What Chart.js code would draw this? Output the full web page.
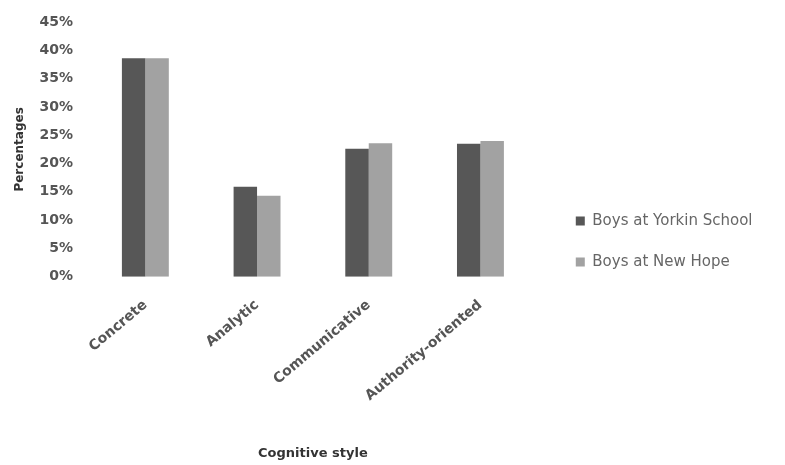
<!DOCTYPE html>
<html lang="en">
<head>
    <meta charset="UTF-8">
    <title>Cognitive style</title>
    <script src="https://cdn.jsdelivr.net/npm/chart.js"></script>
    <style>
        html, body {
            margin: 0;
            padding: 0;
            background: #ffffff;
        }
        .chart-container {
            width: 785px;
            height: 465px;
        }
    </style>
</head>
<body>
    <div class="chart-container">
        <canvas id="styleChart" width="785" height="465"></canvas>
    </div>

    <script>
        // Data (percentages)
        const categories = ['Concrete', 'Analytic', 'Communicative', 'Authority-oriented'];
        const seriesNames = ['Boys at Yorkin School', 'Boys at New Hope'];
        const yorkinValues = [38.6, 15.9, 22.6, 23.5];
        const newHopeValues = [38.6, 14.3, 23.6, 24.0];
        const yTicks = [0, 5, 10, 15, 20, 25, 30, 35, 40, 45];

        const tickColor = '#555555';

        const ctx = document.getElementById('styleChart').getContext('2d');
        new Chart(ctx, {
            type: 'bar',
            data: {
                labels: categories,
                datasets: [
                    {
                        label: seriesNames[0],
                        data: yorkinValues,
                        backgroundColor: '#575757',
                        categoryPercentage: 0.42,
                        barPercentage: 1.0
                    },
                    {
                        label: seriesNames[1],
                        data: newHopeValues,
                        backgroundColor: '#a2a2a2',
                        categoryPercentage: 0.42,
                        barPercentage: 1.0
                    }
                ]
            },
            options: {
                responsive: false,
                animation: false,
                devicePixelRatio: 1,
                layout: {
                    padding: { top: 22, left: 13, right: 22.5, bottom: 4 }
                },
                plugins: {
                    legend: {
                        position: 'right',
                        maxWidth: 260,
                        labels: {
                            boxWidth: 9,
                            boxHeight: 9,
                            padding: 26,
                            color: '#666666',
                            font: { family: 'DejaVu Sans', size: 15 }
                        }
                    },
                    tooltip: { enabled: false }
                },
                scales: {
                    x: {
                        grid: { display: false },
                        border: { display: false },
                        ticks: {
                            color: tickColor,
                            minRotation: 40,
                            maxRotation: 40,
                            padding: 12,
                            font: { family: 'DejaVu Sans', size: 14, weight: 'bold' }
                        },
                        title: {
                            display: true,
                            text: 'Cognitive style',
                            color: '#333333',
                            padding: { top: 29, bottom: 0 },
                            font: { family: 'DejaVu Sans', size: 13, weight: 'bold' }
                        }
                    },
                    y: {
                        min: 0,
                        max: 45,
                        grid: { display: false },
                        border: { display: false },
                        afterBuildTicks: (scale) => {
                            scale.ticks = yTicks.map(v => ({ value: v }));
                        },
                        ticks: {
                            color: tickColor,
                            padding: 8.5,
                            callback: (v) => v + '%',
                            font: { family: 'DejaVu Sans', size: 14, weight: 'bold' }
                        },
                        title: {
                            display: true,
                            text: 'Percentages',
                            color: '#333333',
                            padding: { top: 0, bottom: 3.6 },
                            font: { family: 'DejaVu Sans', size: 12, weight: 'bold' }
                        }
                    },
                    // empty spacer between the plot and the legend
                    gap: {
                        type: 'linear',
                        position: 'right',
                        display: true,
                        grid: { display: false },
                        border: { display: false },
                        ticks: { display: false },
                        afterFit: (scale) => {
                            scale.width = 13.5;
                        }
                    }
                }
            }
        });
    </script>
</body>
</html>
